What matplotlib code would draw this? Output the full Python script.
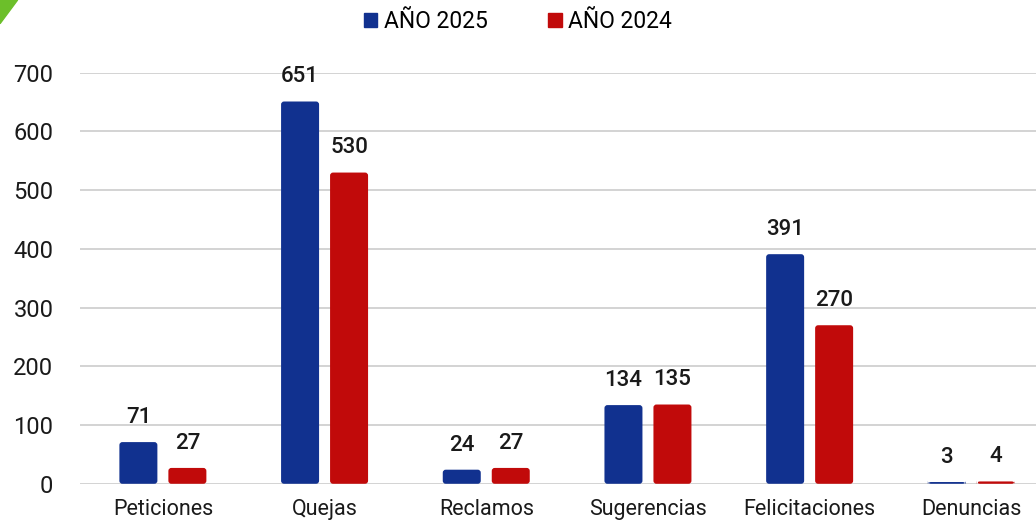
import numpy as np
import matplotlib.pyplot as plt
from matplotlib.patches import Polygon, FancyBboxPatch

plt.rcParams['font.family'] = ['Roboto', 'DejaVu Sans']

categorias = ['Peticiones', 'Quejas', 'Reclamos', 'Sugerencias', 'Felicitaciones', 'Denuncias']
anio_2025 = [71, 651, 24, 134, 391, 3]
anio_2024 = [27, 530, 27, 135, 270, 4]

azul = '#11318f'
rojo = '#c10a0a'

fig = plt.figure(figsize=(10.36, 5.27), dpi=100)
ax = fig.add_axes([0.077, 0.082, 0.923, 0.78])

x = np.arange(len(categorias))
w = 0.235
gap = 0.068
ax.set_ylim(0, 700)
ax.set_xlim(-0.514, 5.40)

# rounded-top bars
px_x = 1 / 161.6
px_y = 700 / 412
aspect = px_y / px_x


def barra(xc, h, color):
    p = FancyBboxPatch((xc - w / 2, 0), w, h,
                       boxstyle='round,pad=0,rounding_size=%f' % (3 * px_x),
                       mutation_aspect=aspect, facecolor=color, edgecolor='none',
                       zorder=3)
    ax.add_patch(p)


for i, (a, b) in enumerate(zip(anio_2025, anio_2024)):
    x1 = x[i] - (w + gap) / 2
    x2 = x[i] + (w + gap) / 2
    barra(x1, a, azul)
    barra(x2, b, rojo)
    ax.text(x1, a + 24, str(a), ha='center', va='bottom', fontsize=16,
            fontweight='medium', color='#1a1a1a')
    ax.text(x2, b + 24, str(b), ha='center', va='bottom', fontsize=16,
            fontweight='medium', color='#1a1a1a')

ax.set_yticks(range(0, 701, 100))
ax.yaxis.grid(True, color='#cccccc', linewidth=1.2, zorder=0)
ax.set_xticks(x)
ax.set_xticklabels(categorias)
ax.tick_params(axis='both', length=0, colors='#1a1a1a')
ax.tick_params(axis='x', pad=11, labelsize=15.5)
ax.tick_params(axis='y', pad=19, labelsize=17)
for s in ax.spines.values():
    s.set_visible(False)

h1 = plt.Rectangle((0, 0), 1, 1, color=azul)
h2 = plt.Rectangle((0, 0), 1, 1, color=rojo)
fig.legend([h1, h2], ['AÑO 2025', 'AÑO 2024'], loc='upper center',
           bbox_to_anchor=(0.5, 1.02), ncol=2, frameon=False,
           fontsize=16.5, handlelength=0.6, handleheight=0.6, handletextpad=0.3,
           columnspacing=2.6)

fig.patches.append(Polygon([[0, 1], [0.017, 1], [0, 0.955]], closed=True,
                           transform=fig.transFigure, color='#6cbf2a'))

fig.savefig('out.png', dpi=100)
